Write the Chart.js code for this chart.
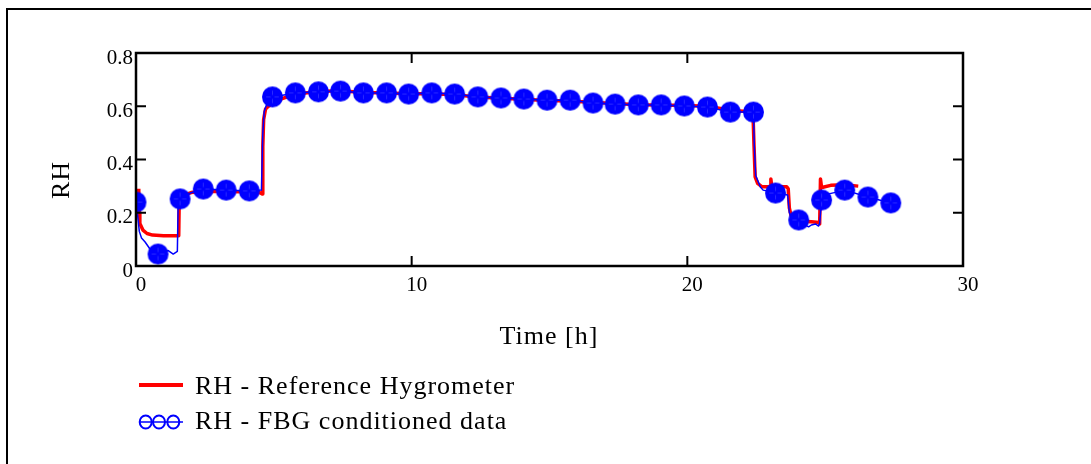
<!DOCTYPE html>
<html>
<head>
<meta charset="utf-8">
<script src="https://cdn.jsdelivr.net/npm/chart.js@4.4.0/dist/chart.umd.min.js"></script>
<style>
    body { margin: 0; background: #fff; }
    #wrap { position: relative; width: 1091px; height: 464px; overflow: hidden; font-family: "Liberation Serif", "Times New Roman", serif; color: #000; }
    #frame { position: absolute; left: 6px; top: 8px; width: 1200px; height: 600px; border-left: 2px solid #000; border-top: 2px solid #000; }
    #chart { position: absolute; left: 0; top: 0; }
    .lbl { position: absolute; font-size: 26px; line-height: 26px; white-space: nowrap; letter-spacing: 1px; }
    #legendSym { position: absolute; left: 0; top: 0; }
</style>
</head>
<body>
<div id="wrap">
    <div id="frame"></div>
    <canvas id="chart" width="1091" height="464"></canvas>
    <div class="lbl" style="left:48px; top:186px; transform: translate(0,-50%) rotate(-90deg); transform-origin: 13px 50%;">RH</div>
    <div class="lbl" style="left:549px; top:323px; transform: translateX(-50%);">Time [h]</div>
    <svg id="legendSym" width="200" height="464">
        <rect x="139" y="383" width="44" height="4" fill="#ff0000"/>
        <line x1="139" y1="422" x2="183" y2="422" stroke="#0000ff" stroke-width="1.5"/>
        <ellipse cx="145.7" cy="422" rx="6" ry="6.5" fill="none" stroke="#0000ff" stroke-width="2"/>
        <ellipse cx="159" cy="422" rx="6" ry="6.5" fill="none" stroke="#0000ff" stroke-width="2"/>
        <ellipse cx="173.3" cy="422" rx="6" ry="6.5" fill="none" stroke="#0000ff" stroke-width="2"/>
    </svg>
    <div class="lbl" style="left:195px; top:373px;">RH - Reference Hygrometer</div>
    <div class="lbl" style="left:195px; top:408px;">RH - FBG conditioned data</div>
</div>
<script>
// axis ticks
const xTicks = [0, 10, 20, 30]
const yTicks = [0, 0.2, 0.4, 0.6, 0.8]
const yTickLabels = ['0', '0.2', '0.4', '0.6', '0.8']

// RH - Reference Hygrometer (red line)
const refTime = [
    0.10, 0.11, 0.14, 0.25, 0.40, 0.60, 1.00, 1.55, 1.57, 1.80, 2.00, 2.30, 3.00, 3.80, 4.50, 4.58,
    4.60, 4.63, 4.70, 4.80, 4.95, 5.20, 5.75, 6.60, 7.40, 8.25, 9.10, 9.90, 10.75, 11.55, 12.40,
    13.25, 14.05, 14.90, 15.75, 16.60, 17.40, 18.20, 19.05, 19.90, 20.75, 21.55, 22.38,
    22.42, 22.46, 22.55, 22.70, 23.00, 23.03, 23.06, 23.10, 23.60, 23.66, 23.70, 23.76, 23.90,
    24.10, 24.50, 24.78, 24.80, 24.83, 24.87, 24.92, 25.20, 25.70, 26.20
]
const refRH = [
    0.290, 0.200, 0.160, 0.135, 0.122, 0.116, 0.114, 0.114, 0.260, 0.268, 0.276, 0.280, 0.280, 0.279, 0.275, 0.270,
    0.450, 0.550, 0.590, 0.600, 0.610, 0.625, 0.645, 0.655, 0.658, 0.652, 0.650, 0.647, 0.647, 0.643, 0.635,
    0.630, 0.626, 0.622, 0.620, 0.614, 0.610, 0.606, 0.605, 0.603, 0.600, 0.585, 0.578,
    0.450, 0.335, 0.310, 0.298, 0.298, 0.327, 0.300, 0.298, 0.298, 0.290, 0.218, 0.190, 0.175,
    0.168, 0.166, 0.163, 0.158, 0.327, 0.295, 0.296, 0.303, 0.305, 0.300
]

// RH - FBG conditioned data (thin blue trace)
const fbgLineTime = [
    0.00, 0.05, 0.12, 0.20, 0.33, 0.50, 0.80, 1.00, 1.17, 1.35, 1.50, 1.53, 1.60, 2.00, 2.44, 3.27, 4.11, 4.55, 4.60, 4.65, 4.75, 4.95,
    5.78, 6.62, 7.42, 8.25, 9.09, 9.89, 10.73, 11.56, 12.40, 13.24, 14.07, 14.91, 15.75, 16.58, 17.38, 18.22, 19.05, 19.89, 20.73, 21.56, 22.40,
    22.43, 22.48, 22.65, 22.75, 23.20, 23.64, 23.70, 23.80, 24.04, 24.25, 24.40, 24.50, 24.65, 24.76, 24.80, 24.87, 25.10, 25.71, 26.55, 27.38
]
const fbgLineRH = [
    0.240, 0.200, 0.130, 0.105, 0.090, 0.065, 0.045, 0.050, 0.058, 0.045, 0.055, 0.240, 0.255, 0.275, 0.289, 0.285, 0.282, 0.285, 0.500, 0.580, 0.610, 0.635,
    0.650, 0.654, 0.657, 0.650, 0.650, 0.646, 0.650, 0.646, 0.635, 0.631, 0.627, 0.623, 0.623, 0.612, 0.608, 0.605, 0.605, 0.601, 0.597, 0.578, 0.578,
    0.450, 0.340, 0.297, 0.285, 0.274, 0.267, 0.200, 0.180, 0.173, 0.155, 0.147, 0.154, 0.158, 0.150, 0.160, 0.248, 0.270, 0.285, 0.259, 0.237
]

// FBG markers
const fbgTime = [
    0.00, 0.80, 1.60, 2.44, 3.27, 4.11, 4.95, 5.78, 6.62, 7.42, 8.25, 9.09, 9.89, 10.73, 11.56, 12.40, 13.24,
    14.07, 14.91, 15.75, 16.58, 17.38, 18.22, 19.05, 19.89, 20.73, 21.56, 22.40, 23.20, 24.04, 24.87, 25.71, 26.55, 27.38
]
const fbgRH = [
    0.240, 0.045, 0.252, 0.289, 0.285, 0.282, 0.635, 0.650, 0.654, 0.657, 0.650, 0.650, 0.646, 0.650, 0.646, 0.635, 0.631,
    0.627, 0.623, 0.623, 0.612, 0.608, 0.605, 0.605, 0.601, 0.597, 0.578, 0.578, 0.274, 0.173, 0.248, 0.285, 0.259, 0.237
]

const toXY = (xs, ys) => xs.map((x, i) => ({x: x, y: ys[i]}))

// filled blue dot with a faint lighter cross, like the original markers
function makeDot(r) {
    const c = document.createElement('canvas')
    c.width = c.height = Math.ceil(r * 2) + 2
    const g = c.getContext('2d')
    const m = c.width / 2
    g.fillStyle = '#0000ff'
    g.beginPath()
    g.arc(m, m, r, 0, Math.PI * 2)
    g.fill()
    g.strokeStyle = 'rgba(120,120,255,0.35)'
    g.lineWidth = 1
    g.beginPath()
    g.moveTo(m - r * 0.6, m); g.lineTo(m - 2, m)
    g.moveTo(m + 2, m); g.lineTo(m + r * 0.6, m)
    g.moveTo(m, m - r * 0.6); g.lineTo(m, m - 2)
    g.moveTo(m, m + 2); g.lineTo(m, m + r * 0.6)
    g.stroke()
    return c
}

const frameTicks = {
    id: 'frameTicks',
    afterDatasetsDraw(chart) {
        const {ctx, chartArea: a, scales: {x, y}} = chart
        ctx.save()
        ctx.strokeStyle = '#000'
        ctx.lineWidth = 2
        ctx.beginPath()
        xTicks.slice(1, -1).forEach(v => {
            const px = x.getPixelForValue(v)
            ctx.moveTo(px, a.bottom); ctx.lineTo(px, a.bottom - 10)
            ctx.moveTo(px, a.top); ctx.lineTo(px, a.top + 10)
        })
        yTicks.slice(1, -1).forEach(v => {
            const py = y.getPixelForValue(v)
            ctx.moveTo(a.left, py); ctx.lineTo(a.left + 10, py)
            ctx.moveTo(a.right, py); ctx.lineTo(a.right - 10, py)
        })
        ctx.stroke()
        ctx.lineWidth = 2.5
        ctx.strokeRect(a.left, a.top, a.right - a.left, a.bottom - a.top)
        ctx.restore()
    }
}

const tickFont = {family: "'Liberation Serif', 'Times New Roman', serif", size: 21}

new Chart(document.getElementById('chart'), {
    type: 'scatter',
    data: {
        datasets: [
            {
                label: 'FBG markers',
                data: toXY(fbgTime, fbgRH),
                pointStyle: makeDot(10.5),
                pointRadius: 10.5,
                showLine: false,
                clip: 0,
                order: 0
            },
            {
                label: 'RH - FBG conditioned data',
                data: toXY(fbgLineTime, fbgLineRH),
                showLine: true,
                borderColor: '#0000ff',
                borderWidth: 1.5,
                borderJoinStyle: 'round',
                pointRadius: 0,
                order: 1
            },
            {
                label: 'RH - Reference Hygrometer',
                data: toXY(refTime, refRH),
                showLine: true,
                borderColor: '#ff0000',
                borderWidth: 3.5,
                borderJoinStyle: 'round',
                pointRadius: 0,
                order: 2
            }
        ]
    },
    options: {
        responsive: false,
        animation: false,
        events: [],
        layout: {padding: {top: 53, right: 128, left: 0, bottom: 0}},
        plugins: {
            legend: {display: false},
            tooltip: {enabled: false}
        },
        scales: {
            x: {
                type: 'linear',
                min: 0,
                max: 30,
                grid: {display: false, drawTicks: false},
                border: {display: false},
                afterFit: s => { s.height = 198 },
                afterBuildTicks: s => { s.ticks = xTicks.map(v => ({value: v})) },
                ticks: {font: tickFont, color: '#000', padding: 7, labelOffset: 5, maxRotation: 0, autoSkip: false}
            },
            y: {
                type: 'linear',
                min: 0,
                max: 0.8,
                grid: {display: false, drawTicks: false},
                border: {display: false},
                afterFit: s => { s.width = 136 },
                afterBuildTicks: s => { s.ticks = yTicks.map(v => ({value: v})) },
                ticks: {font: tickFont, color: '#000', padding: 3, labelOffset: 5, autoSkip: false,
                    callback: (v, i) => yTickLabels[i]}
            }
        }
    },
    plugins: [frameTicks]
})
</script>
</body>
</html>
